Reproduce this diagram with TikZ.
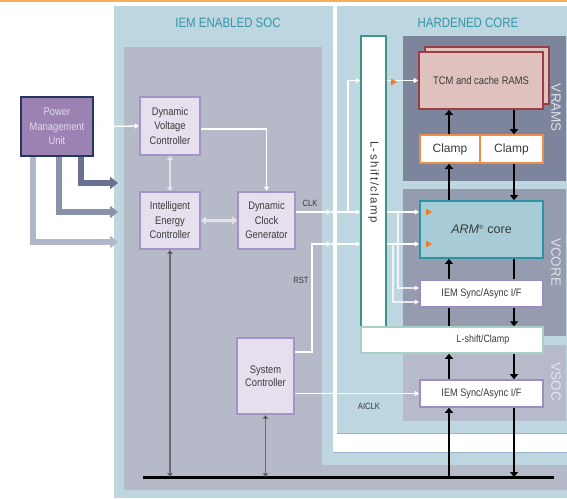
\documentclass[tikz,border=0pt]{standalone}
\usepackage{fontspec}
\setmainfont{Liberation Sans}
\newfontfamily\cf[FakeStretch=0.85]{Liberation Sans}
\newfontfamily\lsf[LetterSpace=12]{Liberation Sans}
\usetikzlibrary{arrows.meta}
\definecolor{orangeline}{HTML}{F7AE55}
\definecolor{lblue}{HTML}{BED6E0}
\definecolor{lgray}{HTML}{B6BAC8}
\definecolor{vramsc}{HTML}{7D859D}
\definecolor{vcorec}{HTML}{959CB0}
\definecolor{vsocc}{HTML}{B6BACA}
\definecolor{titleteal}{HTML}{3496A8}
\definecolor{boxfill}{HTML}{E6E0EE}
\definecolor{boxdraw}{HTML}{A593C6}
\definecolor{pmufill}{HTML}{9B82B3}
\definecolor{pmudraw}{HTML}{24375F}
\definecolor{pmutext}{HTML}{E2DAEA}
\definecolor{tcmfill}{HTML}{DFC2BE}
\definecolor{tcmdraw}{HTML}{9C3C44}
\definecolor{clampdraw}{HTML}{F08C48}
\definecolor{armfill}{HTML}{A7CCD8}
\definecolor{armdraw}{HTML}{2C93A3}
\definecolor{iemdraw}{HTML}{9C8CC0}
\definecolor{lsvdraw}{HTML}{3D9488}
\definecolor{lshdraw}{HTML}{A8D0C4}
\definecolor{txtgray}{HTML}{3A3A3A}
\definecolor{pa1c}{HTML}{6A7090}
\definecolor{pa2c}{HTML}{8A92AA}
\definecolor{pa3c}{HTML}{B2B6CA}
\definecolor{frameblue}{HTML}{9AB4CC}
\definecolor{orangetri}{HTML}{EE7A2A}
\definecolor{lightarrow}{HTML}{E2E2EA}
\definecolor{busgray}{HTML}{6C6C70}
\begin{document}
\begin{tikzpicture}[x=1pt,y=-1pt,
  tx/.style={font=\cf\fontsize{11}{14.5}\selectfont, text=txtgray},
  lbox/.style={draw=boxdraw, fill=boxfill, line width=1.8pt, inner sep=0pt, align=center, tx},
  pmubox/.style={draw=pmudraw, fill=pmufill, line width=2pt, inner sep=0pt, align=center, tx, text=pmutext},
  wbox/.style={draw=iemdraw, fill=white, line width=1.6pt, inner sep=0pt, align=center, font=\cf\fontsize{10.8}{12}\selectfont, text=txtgray},
  title/.style={font=\cf\fontsize{13.5}{15}\selectfont, text=titleteal},
  plabel/.style={rotate=-90, font=\fontsize{13.5}{14}\selectfont},
  sig/.style={font=\cf\fontsize{9}{10}\selectfont, text=txtgray},
  wline/.style={draw=white, line width=1.3pt, -{Triangle[length=4.5pt,width=5pt]}},
  pline/.style={draw=white, draw opacity=0.75, line width=1.3pt, -{Triangle[length=4.5pt,width=5pt]}},
  bk/.style={draw=black, line width=2.6pt, -{Triangle[length=5pt,width=8pt]}},
  bkplain/.style={draw=black, line width=2.6pt},
  busarrow/.style={draw=busgray, line width=1.5pt, {Triangle[length=4pt,width=5.5pt,fill=black]}-{Triangle[length=4pt,width=5.5pt,fill=black]}},
  pmuarrow/.style={line width=5.5pt, -{Triangle[length=8pt,width=12pt]}}
]
\useasboundingbox (0,0) rectangle (567,498);
\fill[white] (0,0) rectangle (567,498);
\fill[orangeline] (0,0) rectangle (567,2);
% backgrounds
\fill[lblue] (114,6) rectangle (567,498);
\fill[lgray] (124,47) rectangle (322,489);
\fill[lgray] (124,465) rectangle (567,490);
\fill[white] (333,6) rectangle (337,452);
\fill[white] (333,433) rectangle (567,452);
\draw[frameblue, line width=0.8pt] (337,433) -- (567,433);
\draw[frameblue, line width=1pt] (333,452) -- (567,452);
\fill[vramsc] (403,36) rectangle (566,181);
\fill[vcorec] (403,189) rectangle (566,336);
\fill[vsocc] (403,345) rectangle (566,421);
% titles and panel labels
\node[title] (t1) at (228,23) {IEM ENABLED SOC};
\node[title] (t2) at (468,23) {HARDENED CORE};
\node[plabel, text=white!75!vramsc] (lv1) at (556,108) {VRAMS};
\node[plabel, text=white!70!vcorec] (lv2) at (556,262) {VCORE};
\node[plabel, text=white!65!vsocc] (lv3) at (556,382) {VSOC};
% left boxes
\node[pmubox, minimum width=72, minimum height=59] (pmu) at (57,126.5) {Power\\Management\\Unit};
\node[lbox, minimum width=60, minimum height=58] (dvc) at (170,126) {Dynamic\\Voltage\\Controller};
\node[lbox, minimum width=60, minimum height=57] (iec) at (170,220.5) {Intelligent\\Energy\\Controller};
\node[lbox, minimum width=57, minimum height=57] (dcg) at (266.5,220.5) {Dynamic\\Clock\\Generator};
\node[lbox, minimum width=57, minimum height=76, font=\cf\fontsize{11}{13}\selectfont] (sys) at (265.5,376) {System\\Controller};
% hardened core boxes
\node[draw=lsvdraw, fill=white, line width=1.5pt, minimum width=25, minimum height=291, inner sep=0pt] (lsv) at (373.5,181.5) {};
\node[rotate=-90, font=\lsf\fontsize{11.5}{12}\selectfont, text=txtgray] (lsvt) at (373.5,182) {L-shift/clamp};
\node[draw=lshdraw, fill=white, line width=1.5pt, minimum width=182, minimum height=26, inner sep=0pt, font=\cf\fontsize{10.5}{12}\selectfont, text=txtgray] (lsh) at (452,340) {\hspace*{62pt}L-shift/Clamp};
\node[draw=tcmdraw, fill=tcmfill, line width=1.6pt, minimum width=124, minimum height=57, inner sep=0pt] (tcmb) at (487,75.5) {};
\node[draw=tcmdraw, fill=tcmfill, line width=1.6pt, minimum width=124, minimum height=57, inner sep=0pt, font=\cf\fontsize{11}{12}\selectfont, text=txtgray] (tcm) at (481,80.5) {TCM and cache RAMS};
\node[draw=clampdraw, fill=white, line width=1.6pt, minimum width=60, minimum height=28, inner sep=0pt, font=\fontsize{12}{13}\selectfont, text=txtgray] (clampL) at (450,149) {Clamp};
\node[draw=clampdraw, fill=white, line width=1.6pt, minimum width=63, minimum height=28, inner sep=0pt, font=\fontsize{12}{13}\selectfont, text=txtgray] (clampR) at (511.5,149) {Clamp};
\node[draw=armdraw, fill=armfill, line width=1.8pt, minimum width=123, minimum height=57, inner sep=0pt, font=\fontsize{12.5}{13}\selectfont, text=txtgray] (arm) at (481.5,229.5) {\textit{ARM}\textsuperscript{\fontsize{6}{6}\selectfont ®} core};
\node[wbox, minimum width=123, minimum height=27] (iem1) at (481.5,293.5) {IEM Sync/Async I/F};
\node[wbox, minimum width=123, minimum height=27] (iem2) at (481.5,393.5) {IEM Sync/Async I/F};
% coordinates
\coordinate (busL) at (143,477);
\coordinate (busR) at (554,477);
\coordinate (clkY) at (0,212);
\coordinate (rstY) at (0,244);
\coordinate (rstS) at (0,352);
\coordinate (ws) at (331,0);
\coordinate (clkUp) at (348,0);
\coordinate (rstX) at (312,0);
\coordinate (brA) at (398,288);
\coordinate (brB) at (393,302);
\coordinate (colL) at (449,0);
\coordinate (colR) at (514,0);
\coordinate (dashEnd) at (106,0);
\coordinate (e1) at (118,183);
\coordinate (e2) at (118,212);
\coordinate (e3) at (118,242);
\coordinate (dvcY) at (0,129);
% bus
\draw[black, line width=3pt] (busL) -- (busR);
% PMU arrows
\draw[pmuarrow, pa3c] ([xshift=-24pt]pmu.south) |- (e3);
\draw[pmuarrow, pa2c] ([xshift=2pt]pmu.south) |- (e2);
\draw[pmuarrow, pa1c] ([xshift=24pt]pmu.south) |- (e1);
% PMU -> DVC
\draw[white!80!lblue, line width=1.2pt, dash pattern=on 3pt off 2.5pt] (pmu.east) -- (dashEnd |- pmu.east);
\draw[wline] (dashEnd |- pmu.east) -- (dvc.west);
% DVC -> DCG
\draw[wline] (dvc.east |- dvcY) -| (dcg.north);
% DVC <-> IEC
\draw[lightarrow, line width=2pt, {Triangle[length=4pt,width=6pt]}-{Triangle[length=4pt,width=6pt]}] (dvc.south) -- (iec.north);
% IEC <-> DCG
\draw[lightarrow, line width=3.5pt, {Triangle[length=5pt,width=8pt]}-{Triangle[length=5pt,width=8pt]}] (iec.east) -- (dcg.west);
% to bus
\draw[busarrow] (iec.south) -- (iec.south |- busL);
\draw[busarrow] (sys.south) -- (sys.south |- busL);
% CLK
\draw[wline] (dcg.east |- clkY) -- (ws |- clkY);
\draw[wline] (ws |- clkY) -- (lsv.west |- clkY);
\draw[wline] (clkUp |- clkY) |- (lsv.west |- tcm.west);
\draw[wline] (lsv.east |- tcm.west) -- (tcm.west);
\draw[wline] (lsv.east |- clkY) -- (arm.west |- clkY);
% RST
\draw[wline] (sys.east |- rstS) -| (rstX |- rstY) -- (ws |- rstY);
\draw[wline] (ws |- rstY) -- (lsv.west |- rstY);
\draw[wline] (lsv.east |- rstY) -- (arm.west |- rstY);
% branches to IEM I/F
\draw[pline] (brA |- clkY) |- (iem1.west |- brA);
\draw[pline] (brB |- rstY) |- (iem1.west |- brB);
% AICLK
\draw[wline] (sys.east |- iem2.west) -- (iem2.west);
% labels
\node[sig] (clkl) at (310,203) {CLK};
\node[sig] (rstl) at (301,280) {RST};
\node[sig] (aiclkl) at (369,406) {AICLK};
% orange clock markers
\fill[orangetri] (391,78.5) -- (397,82) -- (391,85.5) -- cycle;
\fill[orangetri] (426,208.5) -- (432,212) -- (426,215.5) -- cycle;
\fill[orangetri] (426,240.5) -- (432,244) -- (426,247.5) -- cycle;
% black data arrows
\draw[bk] (colL |- clampL.north) -- (colL |- tcm.south);
\draw[bk] (colR |- tcm.south) -- (colR |- clampR.north);
\draw[bk] (colL |- arm.north) -- (colL |- clampL.south);
\draw[bk] (colR |- clampR.south) -- (colR |- arm.north);
\draw[bk] (colL |- iem1.north) -- (colL |- arm.south);
\draw[bkplain] (colR |- arm.south) -- (colR |- iem1.north);
\draw[bkplain] (colL |- iem1.south) -- (colL |- lsh.north);
\draw[bk] (colR |- iem1.south) -- (colR |- lsh.north);
\draw[bk] (colL |- iem2.north) -- (colL |- lsh.south);
\draw[bk] (colR |- lsh.south) -- (colR |- iem2.north);
\draw[bk] (colL |- busL) -- (colL |- iem2.south);
\draw[bk] (colR |- iem2.south) -- (colR |- busL);
\end{tikzpicture}
\end{document}
